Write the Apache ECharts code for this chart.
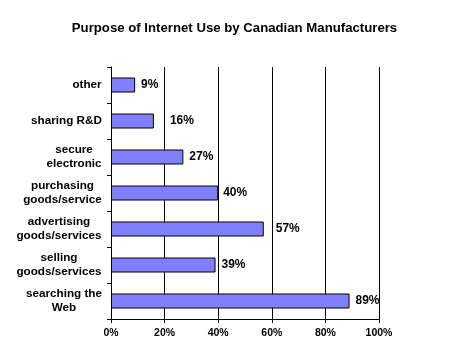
<!DOCTYPE html>
<html>
<head>
<meta charset="utf-8">
<script src="https://cdn.jsdelivr.net/npm/echarts@6/dist/echarts.min.js"></script>
<style>
html,body{margin:0;padding:0;background:#fff;}
#c{width:469px;height:360px;}
</style>
</head>
<body>
<div id="c"></div>
<script>
// Data (top to bottom)
const categories = ['other', 'sharing R&D', 'secure\nelectronic', 'purchasing\ngoods/service', 'advertising\ngoods/services', 'selling\ngoods/services', 'searching the\nWeb'];
const values = [9, 16, 27, 40, 57, 39, 89];
const xTicks = [0, 20, 40, 60, 80, 100];
const titleText = 'Purpose of Internet Use by Canadian Manufacturers';

// Styling: per-label horizontal gap (px) as in the reference
const labelGap = [6, 16, 6, 5, 12, 6, 6];

const catFont = 'bold 11.7px "Liberation Sans", Arial, sans-serif';
const ctx = document.createElement('canvas').getContext('2d');
ctx.font = catFont;
const rich = {};
categories.forEach((c, i) => {
  const w = Math.max(...c.split('\n').map(l => ctx.measureText(l).width));
  rich['c' + i] = {width: Math.ceil(w), align: 'center', fontSize: 11.7, fontWeight: 'bold', fontFamily: '"Liberation Sans", Arial, sans-serif', color: '#000', lineHeight: 14};
});

const chart = echarts.init(document.getElementById('c'), null, {renderer: 'canvas'});
chart.setOption({
  animation: false,
  backgroundColor: '#fff',
  title: {
    text: titleText,
    left: 'center',
    top: 17,
    textStyle: {fontFamily: '"Liberation Sans", Arial, sans-serif', fontWeight: 'bold', fontSize: 13.2, color: '#000'}
  },
  grid: {left: 111, right: 90, top: 67, bottom: 41, containLabel: false},
  xAxis: {
    type: 'value', min: xTicks[0], max: xTicks[xTicks.length - 1], interval: xTicks[1] - xTicks[0],
    axisLine: {show: true, lineStyle: {color: '#000', width: 1}},
    axisTick: {show: true, length: 4, lineStyle: {color: '#000'}},
    splitLine: {show: true, lineStyle: {color: '#000', width: 1}},
    axisLabel: {formatter: '{value}%', margin: 9, color: '#000', fontWeight: 'bold', fontSize: 10.5, fontFamily: '"Liberation Sans", Arial, sans-serif'}
  },
  yAxis: {
    type: 'category', data: categories, inverse: true,
    axisLine: {show: true, lineStyle: {color: '#000', width: 1}},
    axisTick: {show: true, length: 4, lineStyle: {color: '#000'}},
    splitLine: {show: false},
    axisLabel: {
      margin: 9,
      formatter: (v, i) => v.split('\n').map(l => '{c' + i + '|' + l + '}').join('\n'),
      rich: rich
    }
  },
  series: [{
    type: 'bar',
    data: values.map((v, i) => ({value: v, label: {distance: labelGap[i]}})),
    barWidth: 15,
    itemStyle: {color: '#8080ff', borderColor: '#000', borderWidth: 1},
    label: {
      show: true, position: 'right', formatter: '{c}%', color: '#000',
      fontFamily: '"Liberation Sans", Arial, sans-serif', fontWeight: 'bold', fontSize: 12
    }
  }]
});
</script>
</body>
</html>
